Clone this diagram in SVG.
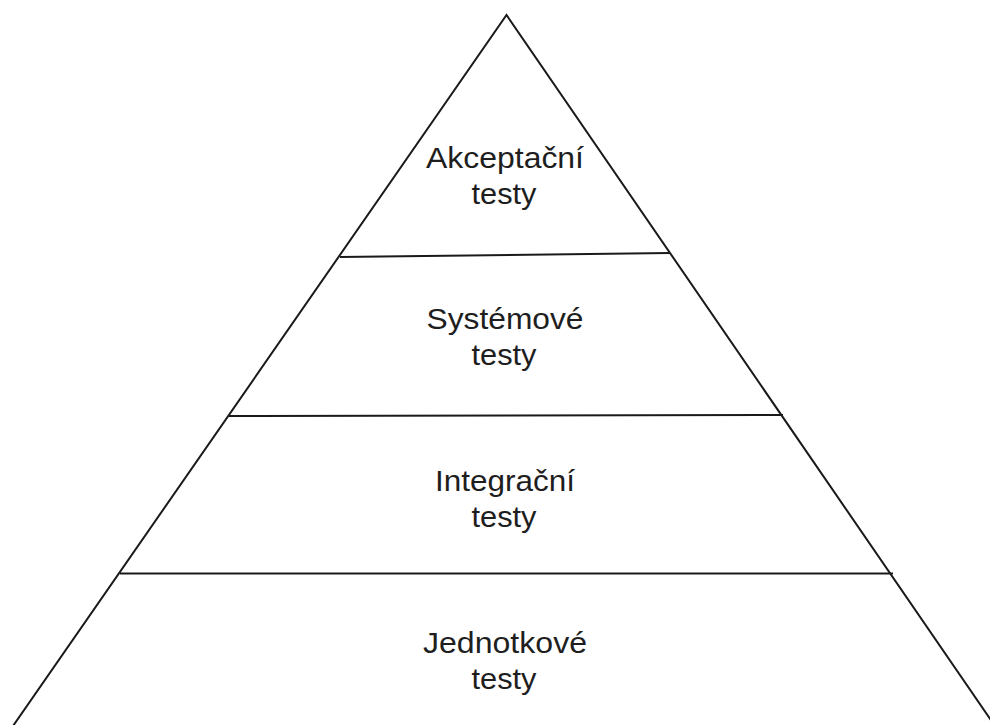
<svg xmlns="http://www.w3.org/2000/svg" width="990" height="725" viewBox="0 0 990 725">
<style>
.ln{fill:none;stroke:#1a1a1a;stroke-width:2;stroke-linejoin:miter}
.lb{font-family:"Liberation Sans",Arial,sans-serif;font-size:29px;fill:#1e1e1e;text-anchor:middle}
</style>
<rect width="990" height="725" fill="#ffffff"/>
<g id="connectors">
<polyline class="ln" points="13,726 506.5,15 995,726"/>
<line class="ln" x1="340" y1="257" x2="670" y2="253"/>
<line class="ln" x1="229" y1="416" x2="783" y2="415"/>
<line class="ln" x1="120" y1="573.5" x2="893" y2="573.5"/>
</g>
<g id="akceptacni">
<text class="lb" x="505" y="168" textLength="158" lengthAdjust="spacingAndGlyphs">Akceptační</text>
<text class="lb" x="504" y="204" textLength="65" lengthAdjust="spacingAndGlyphs">testy</text>
</g>
<g id="systemove">
<text class="lb" x="505" y="329" textLength="157" lengthAdjust="spacingAndGlyphs">Systémové</text>
<text class="lb" x="504" y="365" textLength="65" lengthAdjust="spacingAndGlyphs">testy</text>
</g>
<g id="integracni">
<text class="lb" x="505" y="491" textLength="140" lengthAdjust="spacingAndGlyphs">Integrační</text>
<text class="lb" x="504" y="527" textLength="65" lengthAdjust="spacingAndGlyphs">testy</text>
</g>
<g id="jednotkove">
<text class="lb" x="505" y="653" textLength="164" lengthAdjust="spacingAndGlyphs">Jednotkové</text>
<text class="lb" x="504" y="689" textLength="65" lengthAdjust="spacingAndGlyphs">testy</text>
</g>
</svg>
